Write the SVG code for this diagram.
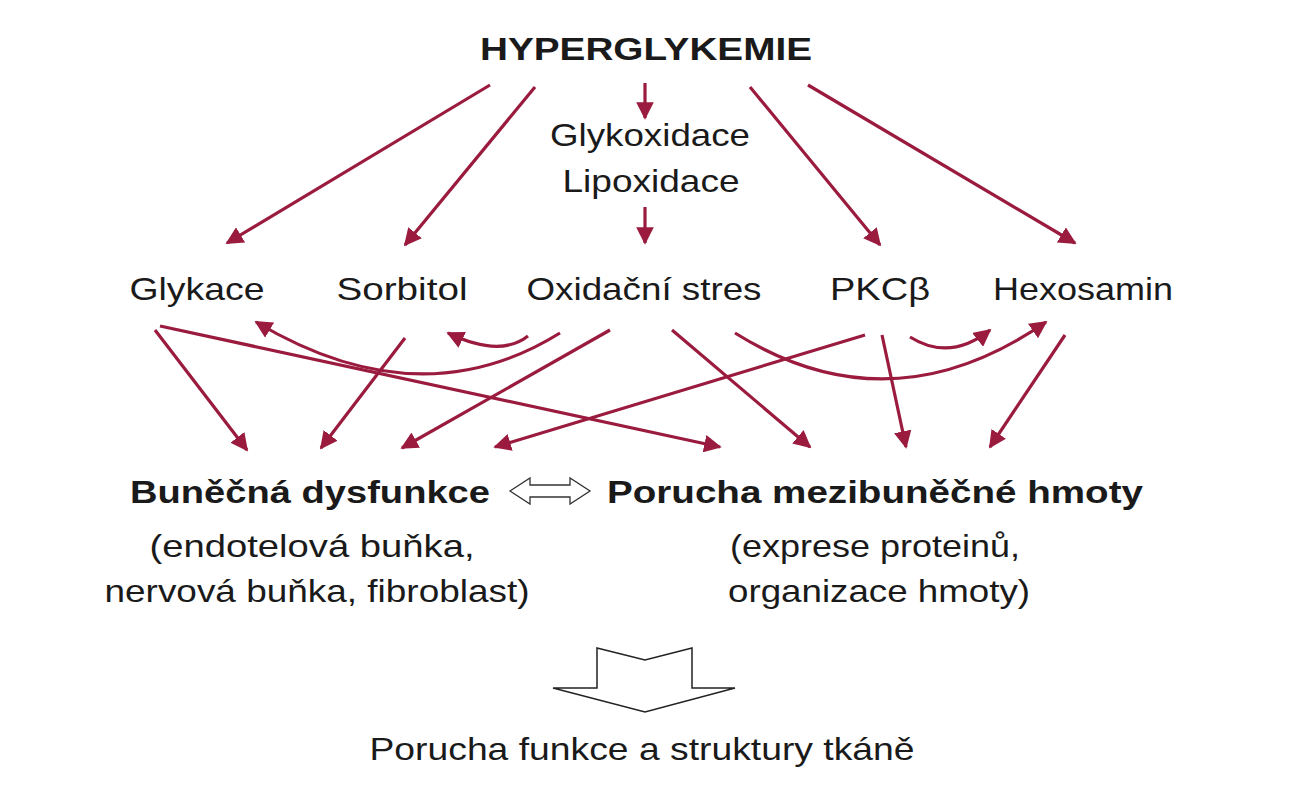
<svg xmlns="http://www.w3.org/2000/svg" width="1294" height="800" viewBox="0 0 1294 800">
<style>
text{font-family:"Liberation Sans",Arial,sans-serif;fill:#1a1a1a;text-anchor:middle;lengthAdjust:spacingAndGlyphs}
.n{font-size:32px}.b{font-size:32px;font-weight:bold}
.c path{fill:none;stroke:#9a1b3e;stroke-width:3.2}
</style>
<defs><marker id="a" viewBox="0 0 10 10" refX="9" refY="5" markerWidth="5.5" markerHeight="5.5" orient="auto" markerUnits="strokeWidth"><path d="M0,0L10,5L0,10z" fill="#9a1b3e"/></marker></defs>
<rect width="1294" height="800" fill="#fff"/>
<g id="hyper"><text x="646" y="60" class="b" textLength="332" lengthAdjust="spacingAndGlyphs">HYPERGLYKEMIE</text></g>
<g id="glykox"><text x="650" y="146" class="n" textLength="200" lengthAdjust="spacingAndGlyphs">Glykoxidace</text><text x="651" y="192" class="n" textLength="177" lengthAdjust="spacingAndGlyphs">Lipoxidace</text></g>
<g id="glykace"><text x="197" y="300" class="n" textLength="135" lengthAdjust="spacingAndGlyphs">Glykace</text></g>
<g id="sorbitol"><text x="402" y="300" class="n" textLength="131" lengthAdjust="spacingAndGlyphs">Sorbitol</text></g>
<g id="oxid"><text x="644" y="300" class="n" textLength="235" lengthAdjust="spacingAndGlyphs">Oxidační stres</text></g>
<g id="pkc"><text x="880" y="300" class="n" textLength="100" lengthAdjust="spacingAndGlyphs">PKCβ</text></g>
<g id="hexo"><text x="1083" y="300" class="n" textLength="180" lengthAdjust="spacingAndGlyphs">Hexosamin</text></g>
<g id="bunecna"><text x="310" y="503" class="b" textLength="360" lengthAdjust="spacingAndGlyphs">Buněčná dysfunkce</text><text x="312" y="557" class="n" textLength="325" lengthAdjust="spacingAndGlyphs">(endotelová buňka,</text><text x="317" y="602" class="n" textLength="425" lengthAdjust="spacingAndGlyphs">nervová buňka, fibroblast)</text></g>
<g id="porucha"><text x="875" y="503" class="b" textLength="536" lengthAdjust="spacingAndGlyphs">Porucha mezibuněčné hmoty</text><text x="875" y="557" class="n" textLength="290" lengthAdjust="spacingAndGlyphs">(exprese proteinů,</text><text x="879" y="602" class="n" textLength="302" lengthAdjust="spacingAndGlyphs">organizace hmoty)</text></g>
<g id="tkan"><text x="642" y="760" class="n" textLength="545" lengthAdjust="spacingAndGlyphs">Porucha funkce a struktury tkáně</text></g>
<g id="dbl"><polygon points="510,491 530,478 530,485 570,485 570,478 590,491 570,504 570,497 530,497 530,504" fill="#fff" stroke="#333" stroke-width="1.3"/></g>
<g id="big"><polygon points="597,648 645,660 692,648 692,688 735,688 645,712 553,688 597,688" fill="#fff" stroke="#222" stroke-width="1.5"/></g>
<g class="c" id="connectors">
<path d="M490,85L227,243" marker-end="url(#a)"/>
<path d="M535,87L405,245" marker-end="url(#a)"/>
<path d="M645,83L645,118" marker-end="url(#a)"/>
<path d="M645,207L645,243" marker-end="url(#a)"/>
<path d="M750,87L880,245" marker-end="url(#a)"/>
<path d="M808,85L1075,243" marker-end="url(#a)"/>
<path d="M155,330L247,450" marker-end="url(#a)"/>
<path d="M160,326L720,447" marker-end="url(#a)"/>
<path d="M560,333Q420,420 256,322" marker-end="url(#a)"/>
<path d="M405,338L321,448" marker-end="url(#a)"/>
<path d="M528,336Q500,358 448,333" marker-end="url(#a)"/>
<path d="M610,330L402,448" marker-end="url(#a)"/>
<path d="M672,330L810,447" marker-end="url(#a)"/>
<path d="M865,335L495,447" marker-end="url(#a)"/>
<path d="M735,333Q890,430 1046,322" marker-end="url(#a)"/>
<path d="M910,337Q950,362 990,330" marker-end="url(#a)"/>
<path d="M882,335L906,447" marker-end="url(#a)"/>
<path d="M1065,335L990,447" marker-end="url(#a)"/>
</g>
</svg>
